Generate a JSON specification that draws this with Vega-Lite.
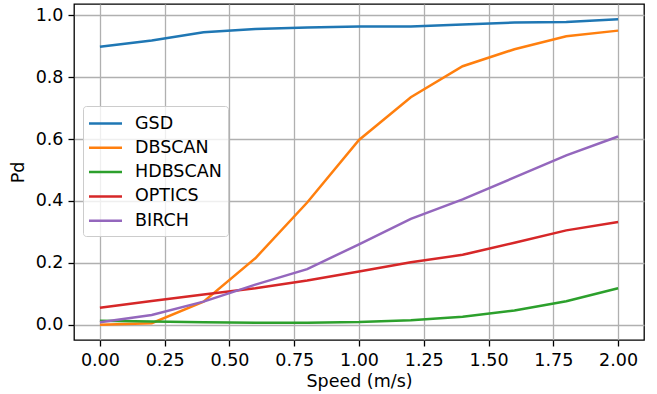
{
  "$schema": "https://vega.github.io/schema/vega-lite/v6.json",
  "width": 570,
  "height": 336,
  "autosize": "none",
  "padding": {"left": 74, "top": 4, "right": 13, "bottom": 54},
  "background": "white",
  "config": {
    "font": "DejaVu Sans",
    "view": {"stroke": "black", "strokeWidth": 1.3},
    "axis": {
      "domain": false,
      "grid": true,
      "gridColor": "#b0b0b0",
      "gridWidth": 1.3,
      "ticks": true,
      "tickColor": "black",
      "tickWidth": 1.3,
      "tickSize": 6,
      "labelFont": "DejaVu Sans",
      "labelFontSize": 17.5,
      "labelColor": "black",
      "labelPadding": 5,
      "titleFont": "DejaVu Sans",
      "titleFontSize": 17.5,
      "titleFontWeight": "normal",
      "titleColor": "black"
    }
  },
  "data": {
    "values": [
      {"speed": 0.0, "method": "GSD", "pd": 0.898},
      {"speed": 0.2, "method": "GSD", "pd": 0.918},
      {"speed": 0.4, "method": "GSD", "pd": 0.945},
      {"speed": 0.6, "method": "GSD", "pd": 0.955},
      {"speed": 0.8, "method": "GSD", "pd": 0.960},
      {"speed": 1.0, "method": "GSD", "pd": 0.963},
      {"speed": 1.2, "method": "GSD", "pd": 0.963},
      {"speed": 1.4, "method": "GSD", "pd": 0.970},
      {"speed": 1.6, "method": "GSD", "pd": 0.976},
      {"speed": 1.8, "method": "GSD", "pd": 0.978},
      {"speed": 2.0, "method": "GSD", "pd": 0.987},
      {"speed": 0.0, "method": "DBSCAN", "pd": 0.0},
      {"speed": 0.2, "method": "DBSCAN", "pd": 0.005},
      {"speed": 0.4, "method": "DBSCAN", "pd": 0.075},
      {"speed": 0.6, "method": "DBSCAN", "pd": 0.215},
      {"speed": 0.8, "method": "DBSCAN", "pd": 0.395},
      {"speed": 1.0, "method": "DBSCAN", "pd": 0.597},
      {"speed": 1.2, "method": "DBSCAN", "pd": 0.735},
      {"speed": 1.4, "method": "DBSCAN", "pd": 0.835},
      {"speed": 1.6, "method": "DBSCAN", "pd": 0.890},
      {"speed": 1.8, "method": "DBSCAN", "pd": 0.932},
      {"speed": 2.0, "method": "DBSCAN", "pd": 0.950},
      {"speed": 0.0, "method": "HDBSCAN", "pd": 0.013},
      {"speed": 0.2, "method": "HDBSCAN", "pd": 0.011},
      {"speed": 0.4, "method": "HDBSCAN", "pd": 0.008},
      {"speed": 0.6, "method": "HDBSCAN", "pd": 0.007},
      {"speed": 0.8, "method": "HDBSCAN", "pd": 0.007},
      {"speed": 1.0, "method": "HDBSCAN", "pd": 0.009},
      {"speed": 1.2, "method": "HDBSCAN", "pd": 0.015},
      {"speed": 1.4, "method": "HDBSCAN", "pd": 0.026},
      {"speed": 1.6, "method": "HDBSCAN", "pd": 0.046},
      {"speed": 1.8, "method": "HDBSCAN", "pd": 0.076},
      {"speed": 2.0, "method": "HDBSCAN", "pd": 0.118},
      {"speed": 0.0, "method": "OPTICS", "pd": 0.055},
      {"speed": 0.2, "method": "OPTICS", "pd": 0.077},
      {"speed": 0.4, "method": "OPTICS", "pd": 0.098},
      {"speed": 0.6, "method": "OPTICS", "pd": 0.118},
      {"speed": 0.8, "method": "OPTICS", "pd": 0.143},
      {"speed": 1.0, "method": "OPTICS", "pd": 0.172},
      {"speed": 1.2, "method": "OPTICS", "pd": 0.202},
      {"speed": 1.4, "method": "OPTICS", "pd": 0.226},
      {"speed": 1.6, "method": "OPTICS", "pd": 0.265},
      {"speed": 1.8, "method": "OPTICS", "pd": 0.305},
      {"speed": 2.0, "method": "OPTICS", "pd": 0.332},
      {"speed": 0.0, "method": "BIRCH", "pd": 0.008},
      {"speed": 0.2, "method": "BIRCH", "pd": 0.032},
      {"speed": 0.4, "method": "BIRCH", "pd": 0.075},
      {"speed": 0.6, "method": "BIRCH", "pd": 0.130},
      {"speed": 0.8, "method": "BIRCH", "pd": 0.180},
      {"speed": 1.0, "method": "BIRCH", "pd": 0.260},
      {"speed": 1.2, "method": "BIRCH", "pd": 0.342},
      {"speed": 1.4, "method": "BIRCH", "pd": 0.405},
      {"speed": 1.6, "method": "BIRCH", "pd": 0.476},
      {"speed": 1.8, "method": "BIRCH", "pd": 0.547},
      {"speed": 2.0, "method": "BIRCH", "pd": 0.608}
    ]
  },
  "mark": {"type": "line", "strokeWidth": 2.5, "clip": true},
  "encoding": {
    "x": {
      "field": "speed",
      "type": "quantitative",
      "title": "Speed (m/s)",
      "scale": {"domain": [-0.1, 2.1], "nice": false, "zero": false},
      "axis": {"values": [0, 0.25, 0.5, 0.75, 1.0, 1.25, 1.5, 1.75, 2.0], "format": ".2f", "titlePadding": 4}
    },
    "y": {
      "field": "pd",
      "type": "quantitative",
      "title": "Pd",
      "scale": {"domain": [-0.049, 1.036], "nice": false, "zero": false},
      "axis": {"values": [0, 0.2, 0.4, 0.6, 0.8, 1.0], "format": ".1f", "titlePadding": 8}
    },
    "color": {
      "field": "method",
      "type": "nominal",
      "sort": ["GSD", "DBSCAN", "HDBSCAN", "OPTICS", "BIRCH"],
      "scale": {
        "domain": ["GSD", "DBSCAN", "HDBSCAN", "OPTICS", "BIRCH"],
        "range": ["#1f77b4", "#ff7f0e", "#2ca02c", "#d62728", "#9467bd"]
      },
      "legend": {
        "title": null,
        "orient": "none",
        "legendX": 9,
        "legendY": 102,
        "symbolType": "M-1.65,0H1.65",
        "symbolSize": 400,
        "symbolStrokeWidth": 2.5,
        "symbolOffset": 5,
        "labelFont": "DejaVu Sans",
        "labelFontSize": 17.5,
        "labelColor": "black",
        "labelOffset": 18,
        "rowPadding": 4.3,
        "padding": 6,
        "fillColor": "rgba(255,255,255,0.8)",
        "strokeColor": "#cccccc",
        "cornerRadius": 3
      }
    }
  }
}
